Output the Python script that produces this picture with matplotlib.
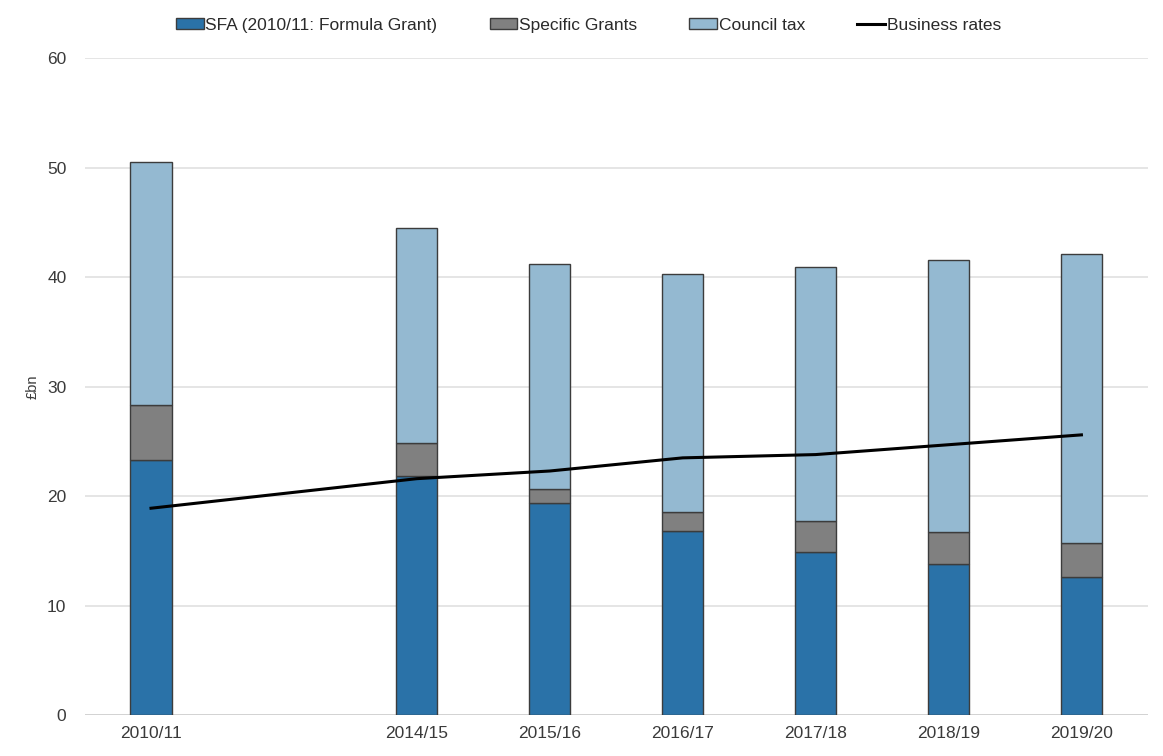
import numpy as np
import matplotlib
matplotlib.use("Agg")
import matplotlib.pyplot as plt

plt.rcParams['font.family'] = ['Liberation Sans', 'DejaVu Sans']

# Data (GBP bn)
years = ["2010/11", "", "2014/15", "2015/16", "2016/17", "2017/18", "2018/19", "2019/20"]
sfa = [23.3, np.nan, 21.8, 19.4, 16.8, 14.9, 13.8, 12.6]
specific_grants = [5.0, np.nan, 3.1, 1.3, 1.8, 2.8, 2.9, 3.1]
council_tax = [22.2, np.nan, 19.6, 20.5, 21.7, 23.2, 24.9, 26.4]
business_rates = [18.9, np.nan, 21.6, 22.3, 23.5, 23.8, 24.7, 25.6]

sfa_col = "#2a72a8"
grant_col = "#808080"
ctax_col = "#94b9d1"
edge_col = "#3c3c3c"

fig = plt.figure(figsize=(11.63, 7.56), dpi=100)
ax = fig.add_axes([0.0727, 0.054, 0.9143, 0.869])

x = np.arange(len(years))
sfa_a = np.array(sfa)
grant_a = np.array(specific_grants)
ctax_a = np.array(council_tax)
width = 0.31

b1 = ax.bar(x, sfa_a, width, color=sfa_col, edgecolor=edge_col, linewidth=1.0,
            label="SFA (2010/11: Formula Grant)", zorder=2)
b2 = ax.bar(x, grant_a, width, bottom=sfa_a, color=grant_col, edgecolor=edge_col,
            linewidth=1.0, label="Specific Grants", zorder=2)
b3 = ax.bar(x, ctax_a, width, bottom=sfa_a + grant_a, color=ctax_col,
            edgecolor=edge_col, linewidth=1.0, label="Council tax", zorder=2)

# line skips the empty slot but stays continuous
br = np.array(business_rates)
ok = ~np.isnan(br)
ln, = ax.plot(x[ok], br[ok], color="black", linewidth=2.2, label="Business rates", zorder=3)

ax.set_xlim(-0.5, len(years) - 0.5)
ax.set_ylim(0, 60)
ax.set_yticks(range(0, 61, 10))
ax.set_xticks(x[ok])
ax.set_xticklabels([years[i] for i in x[ok]])
ax.yaxis.grid(True, color="#e0e0e0", linewidth=1.2, zorder=0)
ax.set_axisbelow(True)
for s in ax.spines.values():
    s.set_visible(False)
ax.axhline(0, color="#d0d0d0", linewidth=1.2, zorder=1)
ax.tick_params(axis="both", length=0, labelsize=12.5, colors="#3a3a3a", pad=8)
ax.tick_params(axis="y", pad=13)
ax.set_ylabel("£bn", fontsize=10.5, color="#3a3a3a")
ax.yaxis.set_label_coords(-0.042, 0.5)

leg = fig.legend([b1, b2, b3, ln],
                 ["SFA (2010/11: Formula Grant)", "Specific Grants", "Council tax", "Business rates"],
                 loc="upper center", bbox_to_anchor=(0.506, 0.997), ncol=4, frameon=False,
                 fontsize=12.5, handlelength=1.6, handleheight=0.6,
                 handletextpad=0.1, columnspacing=3.0)
for t in leg.get_texts():
    t.set_color("#2a2a2a")

fig.savefig("out.png", dpi=100)
